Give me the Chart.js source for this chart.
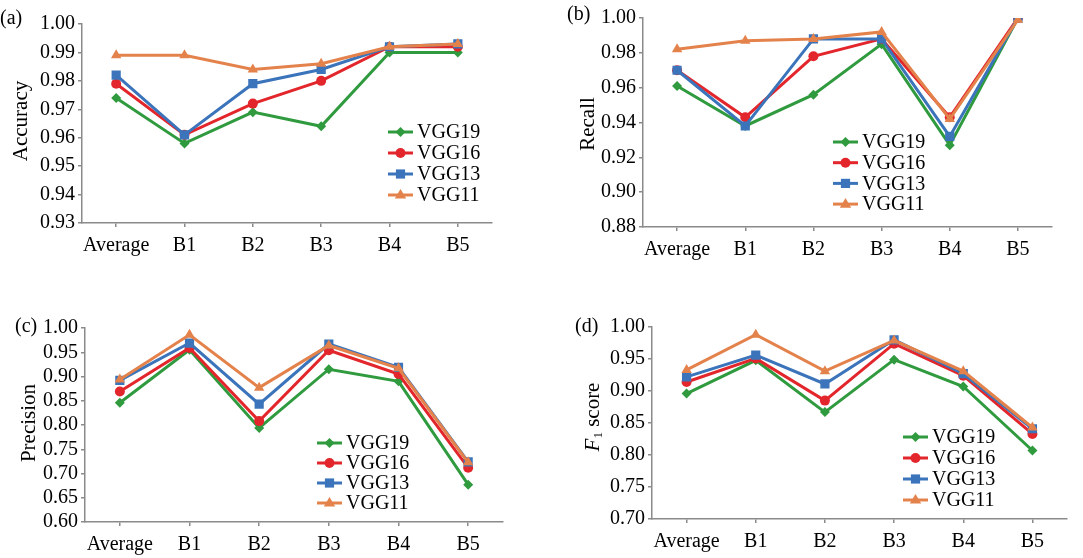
<!DOCTYPE html>
<html>
<head>
<meta charset="utf-8">
<script src="https://cdn.jsdelivr.net/npm/chart.js@4/dist/chart.umd.min.js"></script>
<style>
  body { margin: 0; background: #fff; width: 1083px; height: 558px; position: relative; overflow: hidden; }
  canvas { position: absolute; }
</style>
</head>
<body>
<canvas id="chartA" width="540" height="280" style="left:0;top:0"></canvas>
<canvas id="chartB" width="543" height="280" style="left:540px;top:0"></canvas>
<canvas id="chartC" width="540" height="278" style="left:0;top:280px"></canvas>
<canvas id="chartD" width="543" height="278" style="left:540px;top:280px"></canvas>
<script>
const categories = ['Average', 'B1', 'B2', 'B3', 'B4', 'B5'];
const seriesNames = ['VGG19', 'VGG16', 'VGG13', 'VGG11'];

// (a) accuracy
const accVGG19 = [0.974, 0.958, 0.969, 0.964, 0.990, 0.990];
const accVGG16 = [0.979, 0.961, 0.972, 0.980, 0.992, 0.992];
const accVGG13 = [0.982, 0.961, 0.979, 0.984, 0.992, 0.993];
const accVGG11 = [0.989, 0.989, 0.984, 0.986, 0.992, 0.993];

// (b) recall
const recVGG19 = [0.961, 0.938, 0.956, 0.985, 0.927, 1.000];
const recVGG16 = [0.970, 0.943, 0.978, 0.988, 0.943, 1.000];
const recVGG13 = [0.970, 0.938, 0.988, 0.988, 0.932, 1.000];
const recVGG11 = [0.982, 0.987, 0.988, 0.992, 0.942, 0.999];

// (c) precision
const preVGG19 = [0.846, 0.955, 0.794, 0.915, 0.890, 0.677];
const preVGG16 = [0.869, 0.959, 0.808, 0.954, 0.905, 0.712];
const preVGG13 = [0.892, 0.969, 0.843, 0.967, 0.919, 0.724];
const preVGG11 = [0.894, 0.986, 0.877, 0.964, 0.917, 0.723];

// (d) F1 score
const f1VGG19 = [0.896, 0.948, 0.867, 0.949, 0.907, 0.807];
const f1VGG16 = [0.914, 0.951, 0.885, 0.974, 0.924, 0.833];
const f1VGG13 = [0.922, 0.956, 0.911, 0.980, 0.927, 0.841];
const f1VGG11 = [0.933, 0.988, 0.931, 0.979, 0.931, 0.843];

const colors = ['#2f9a3e', '#e2262b', '#3b74ba', '#e4824c'];
const markers = ['rectRot', 'circle', 'rect', 'triangle'];
const markerSizes = [5, 5, 6.5, 6];
const FONT = '"Liberation Serif", "Times New Roman", serif';
const AXIS = '#8a8a8a';

function drawMarker(ctx, style, x, y, r, color) {
    ctx.fillStyle = color;
    ctx.beginPath();
    if (style === 'circle') {
        ctx.arc(x, y, r, 0, Math.PI * 2);
    } else if (style === 'rect') {
        const s = r * Math.SQRT1_2;
        ctx.rect(x - s, y - s, 2 * s, 2 * s);
    } else if (style === 'rectRot') {
        ctx.moveTo(x, y - r); ctx.lineTo(x + r, y); ctx.lineTo(x, y + r); ctx.lineTo(x - r, y);
    } else {
        ctx.moveTo(x, y - r); ctx.lineTo(x + r * 0.95, y + r * 0.6); ctx.lineTo(x - r * 0.95, y + r * 0.6);
    }
    ctx.closePath();
    ctx.fill();
}

const decorations = {
    id: 'decorations',
    afterDraw(chart, args, opts) {
        const ctx = chart.ctx;
        ctx.save();
        ctx.fillStyle = '#000';
        ctx.textBaseline = 'middle';
        ctx.font = `20px ${FONT}`;
        ctx.fillText(opts.label, opts.labelX, opts.labelY);

        // rotated y title, may be made of parts (italic / subscript)
        ctx.save();
        ctx.translate(opts.titleX, opts.titleY);
        ctx.rotate(-Math.PI / 2);
        const parts = opts.title.map(p => {
            const f = p.sub ? `13px ${FONT}` : (p.italic ? `italic 21px ${FONT}` : `21px ${FONT}`);
            ctx.font = f;
            return { ...p, f, w: ctx.measureText(p.t).width };
        });
        let x = -parts.reduce((s, p) => s + p.w, 0) / 2;
        ctx.textAlign = 'left';
        parts.forEach(p => {
            ctx.font = p.f;
            ctx.fillText(p.t, x, p.sub ? 6 : 0);
            x += p.w;
        });
        ctx.restore();

        // legend inside plot
        chart.data.datasets.forEach((ds, i) => {
            const y = opts.legendY + i * opts.legendGap;
            const x0 = opts.legendX;
            ctx.strokeStyle = ds.borderColor;
            ctx.lineWidth = 3;
            ctx.beginPath(); ctx.moveTo(x0, y); ctx.lineTo(x0 + 25, y); ctx.stroke();
            drawMarker(ctx, ds.pointStyle, x0 + 12.5, y, ds.pointRadius, ds.borderColor);
            ctx.fillStyle = '#000';
            ctx.font = `20px ${FONT}`;
            ctx.textAlign = 'left';
            ctx.fillText(ds.label, x0 + 29, y + 1);
        });
        ctx.restore();
    }
};

function makeChart(id, values, yMin, yMax, step, box, deco) {
    const canvas = document.getElementById(id);
    new Chart(canvas, {
        type: 'line',
        data: {
            labels: categories,
            datasets: values.map((v, i) => ({
                label: seriesNames[i],
                data: v,
                borderColor: colors[i],
                backgroundColor: colors[i],
                borderWidth: 3,
                pointStyle: markers[i],
                pointRadius: markerSizes[i],
                pointBorderWidth: 0,
                tension: 0,
                order: 4 - i
            }))
        },
        options: {
            responsive: false,
            animation: false,
            devicePixelRatio: 1,
            layout: {
                padding: {
                    left: 0,
                    top: box.top,
                    right: canvas.width - box.right,
                    bottom: canvas.height - box.bottom - 34
                }
            },
            plugins: {
                legend: { display: false },
                tooltip: { enabled: false },
                decorations: deco
            },
            scales: {
                x: {
                    type: 'category',
                    offset: true,
                    grid: { drawOnChartArea: false, tickLength: 4, color: AXIS, lineWidth: 1.5, offset: false },
                    border: { color: AXIS, width: 1.5 },
                    ticks: { color: '#000', font: { family: FONT, size: 20 }, padding: 7, maxRotation: 0, autoSkip: false },
                    afterFit: s => { s.height = 34; }
                },
                y: {
                    min: yMin,
                    max: yMax,
                    grid: { drawOnChartArea: false, tickLength: 4, color: AXIS, lineWidth: 1.5 },
                    border: { color: AXIS, width: 1.5 },
                    ticks: {
                        stepSize: step,
                        autoSkip: false,
                        color: '#000',
                        font: { family: FONT, size: 20 },
                        padding: 3,
                        callback: v => v.toFixed(2)
                    },
                    afterFit: s => { s.width = box.left; }
                }
            }
        },
        plugins: [decorations]
    });
}

function drawAll() {
    makeChart('chartA', [accVGG19, accVGG16, accVGG13, accVGG11], 0.93, 1.00, 0.01,
        { left: 82, top: 24, right: 492, bottom: 223 },
        { label: '(a)', labelX: 0, labelY: 19, title: [{ t: 'Accuracy' }], titleX: 21, titleY: 121,
          legendX: 388, legendY: 132, legendGap: 21 });

    makeChart('chartB', [recVGG19, recVGG16, recVGG13, recVGG11], 0.88, 1.00, 0.02,
        { left: 103, top: 18, right: 512, bottom: 227 },
        { label: '(b)', labelX: 27, labelY: 15, title: [{ t: 'Recall' }], titleX: 48, titleY: 124,
          legendX: 293, legendY: 142, legendGap: 20.7 });

    makeChart('chartC', [preVGG19, preVGG16, preVGG13, preVGG11], 0.60, 1.00, 0.05,
        { left: 85, top: 48, right: 503, bottom: 242 },
        { label: '(c)', labelX: 15, labelY: 47, title: [{ t: 'Precision' }], titleX: 29, titleY: 143,
          legendX: 317, legendY: 163, legendGap: 20 });

    makeChart('chartD', [f1VGG19, f1VGG16, f1VGG13, f1VGG11], 0.70, 1.00, 0.05,
        { left: 112, top: 47, right: 527, bottom: 239 },
        { label: '(d)', labelX: 35, labelY: 47, title: [{ t: 'F', italic: true }, { t: '1', sub: true }, { t: ' score' }],
          titleX: 53, titleY: 137, legendX: 363, legendY: 157, legendGap: 21 });
}

Promise.all([
    document.fonts.load('20px "Liberation Serif"'),
    document.fonts.load('italic 21px "Liberation Serif"')
]).then(drawAll, drawAll);
</script>
</body>
</html>
